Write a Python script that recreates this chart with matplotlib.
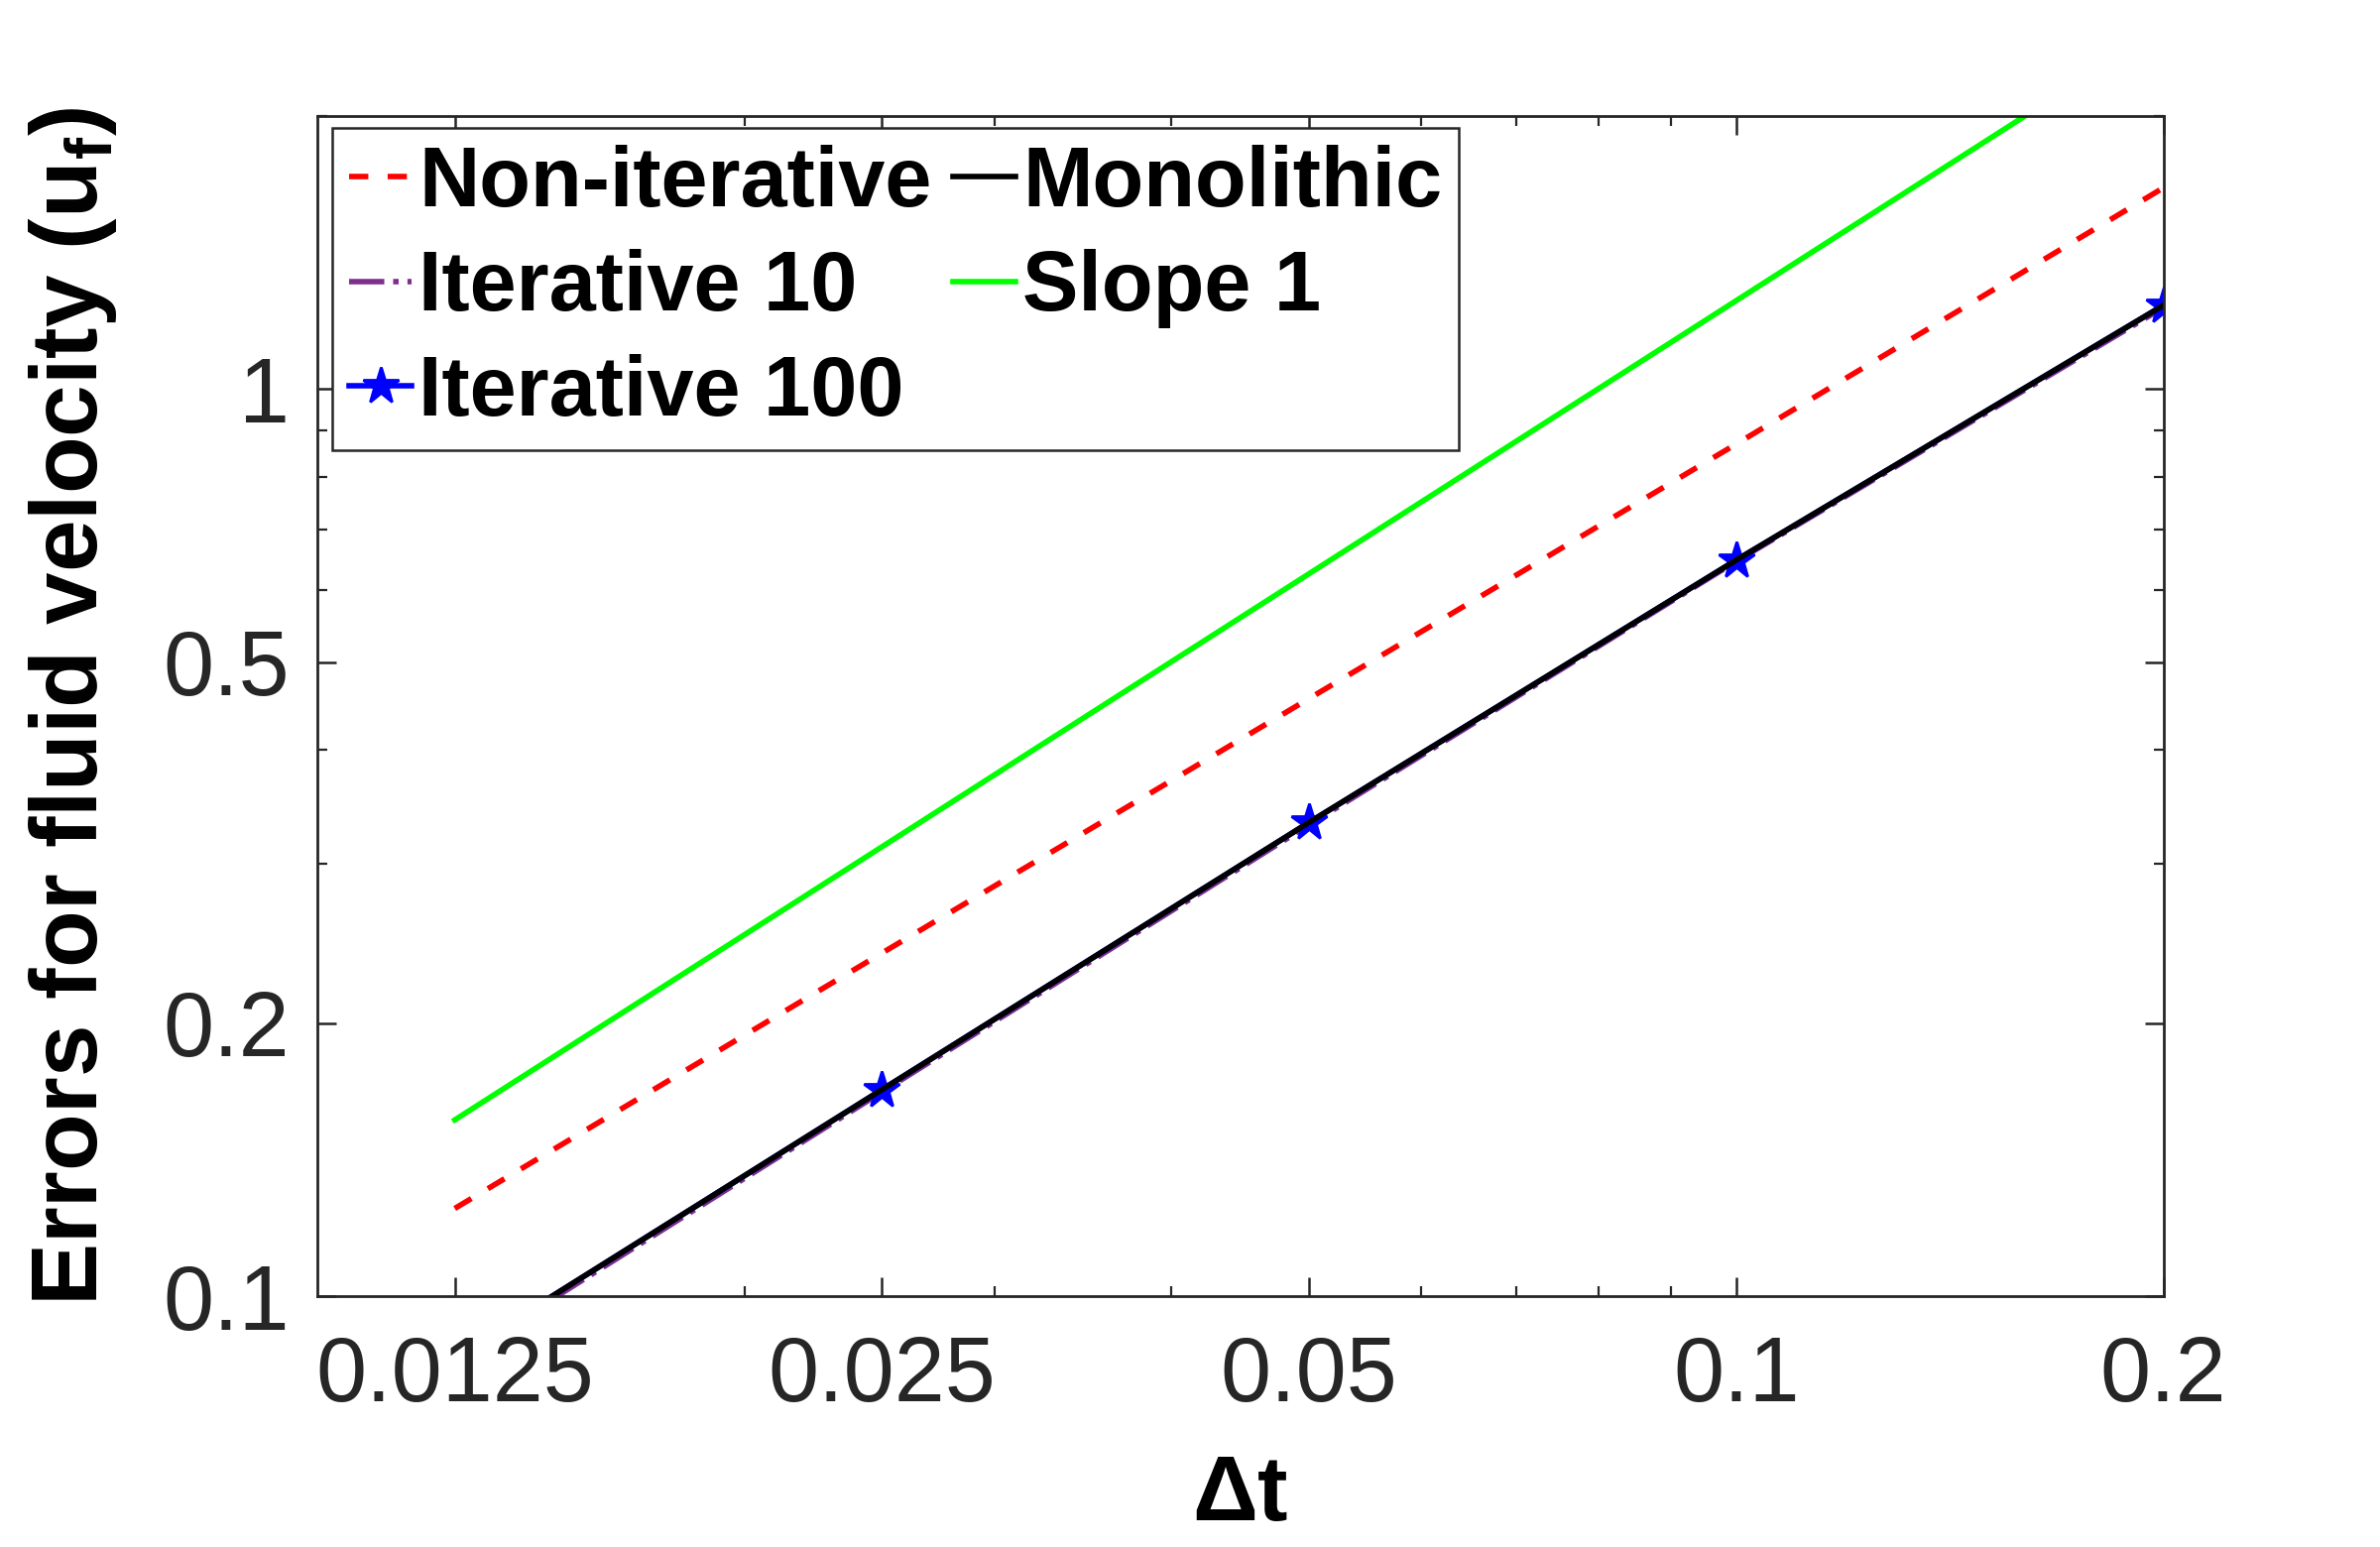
import numpy as np
import matplotlib
matplotlib.use('Agg')
import matplotlib.pyplot as plt
from matplotlib.ticker import FixedLocator, FixedFormatter, NullFormatter

plt.rcParams.update({
    'font.family': ['Liberation Sans', 'DejaVu Sans'],
    'font.size': 30,
    'axes.linewidth': 1.0,
    'mathtext.fontset': 'custom',
    'mathtext.rm': 'Liberation Sans',
    'mathtext.it': 'Liberation Sans:italic',
    'mathtext.bf': 'Liberation Sans:bold',
})

# ── data ──────────────────────────────────────────────────────────────────────
dt            = [0.0125, 0.025, 0.05, 0.1, 0.2]
err_noniter   = [0.125, 0.239, 0.456, 0.870, 1.667]
err_iter10    = [0.0850, 0.1680, 0.3310, 0.6460, 1.2300]
err_iter100   = [0.0857, 0.1690, 0.3330, 0.6480, 1.2370]
err_mono      = [0.0857, 0.1690, 0.3330, 0.6480, 1.2370]
err_slope1    = [0.1565, 0.3130, 0.6260, 1.2520, 2.5040]

xticks      = [0.0125, 0.025, 0.05, 0.1, 0.2]
xticklabels = ['0.0125', '0.025', '0.05', '0.1', '0.2']
yticks      = [0.1, 0.2, 0.5, 1]
yticklabels = ['0.1', '0.2', '0.5', '1']

# ── figure ────────────────────────────────────────────────────────────────────
fig = plt.figure(figsize=(12, 7.8), dpi=200)
ax = fig.add_axes([0.1333, 0.162, 0.7757, 0.763])

l_non, = ax.plot(dt, err_noniter, '--', color='#ff0000', lw=2.0,
                 dashes=(3.5, 3.5), label='Non-iterative')
l_i10, = ax.plot(dt, err_iter10, '-.', color='#7e2f8e', lw=2.0,
                 label='Iterative 10')
l_i100, = ax.plot(dt, err_iter100, '-', color='#0000ff', lw=2.0,
                  marker='*', ms=14, mfc='#0000ff', mec='#0000ff',
                  label='Iterative 100')
l_mono, = ax.plot(dt, err_mono, '-', color='black', lw=2.0,
                  label='Monolithic')
l_s1, = ax.plot(dt, err_slope1, '-', color='#00ff00', lw=2.0,
                label='Slope 1')

ax.set_xscale('log')
ax.set_yscale('log')
ax.set_xlim(0.01, 0.2)
ax.set_ylim(0.1, 2.0)

ax.xaxis.set_major_locator(FixedLocator(xticks))
ax.xaxis.set_major_formatter(FixedFormatter(xticklabels))
ax.xaxis.set_minor_formatter(NullFormatter())
ax.yaxis.set_major_locator(FixedLocator(yticks))
ax.yaxis.set_major_formatter(FixedFormatter(yticklabels))
ax.yaxis.set_minor_formatter(NullFormatter())

ax.tick_params(which='both', direction='in', top=True, right=True,
               colors='#262626', labelcolor='#262626')
ax.tick_params(which='major', length=7, width=0.9, labelsize=33)
ax.tick_params(axis='x', which='major', pad=14)
ax.tick_params(axis='y', which='major', pad=10)
ax.tick_params(which='minor', length=3.5, width=0.8)
for s in ax.spines.values():
    s.set_color('#262626')

ax.set_xlabel(r'$\mathbf{\Delta t}$', fontsize=33, labelpad=12)
ax.set_ylabel(r'Errors for fluid velocity (u$_\mathbf{f}$)', fontsize=34,
              fontweight='bold', labelpad=16)

leg = ax.legend(handles=[l_non, l_i10, l_i100, l_mono, l_s1], ncol=2,
                loc='upper left', bbox_to_anchor=(0.008, 0.99),
                prop={'weight': 'bold', 'size': 30.5},
                frameon=True, fancybox=False, edgecolor='#262626',
                framealpha=1, handlelength=0.75, handletextpad=0.08,
                columnspacing=0.25, borderpad=0.2, labelspacing=0.3,
                borderaxespad=0)
leg.get_frame().set_linewidth(0.9)

fig.savefig('out.png', dpi=200, facecolor='white')
